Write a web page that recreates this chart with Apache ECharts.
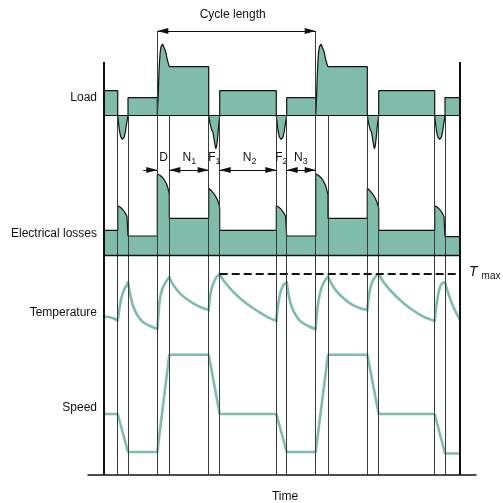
<!DOCTYPE html>
<html><head><meta charset="utf-8">
<script src="https://cdn.jsdelivr.net/npm/echarts@6/dist/echarts.min.js"></script>
<style>html,body{margin:0;padding:0;background:#fff}#c{width:503px;height:503px}</style>
</head><body><div id="c"></div>
<script>
// time of each event line (same units as the time axis)
const events = [13.7,24,53.3,65.3,104.7,115.7,172.3,182.7,211.7,224,263.3,274.7,330.7,341];
const cycleStart = 53.3, cycleEnd = 211.7, tEnd = 356;

const loadPoints = [
 [0,25],[13.7,25],[13.7,0],[14.6,-8],[15.6,-16],[16.8,-21.5],[18.5,-23.6],[20.2,-21.5],[21.4,-16],[22.6,-8],[24,0],
 [24,18],[53.3,18],[53.3,0],[54.2,20],[54.8,38],[55.4,52],[56.1,62.5],[57,69],[58.7,71.5],[60.3,69.7],[61.7,64],[63,57.4],[64.3,52.4],[65.3,49],
 [104.7,49],[104.7,0],[106,-7.6],[107.7,-14.3],[109,-16.6],[110.3,-25.3],[111.7,-33],[112.7,-30],[113.7,-21],[114.7,-9.3],[115.7,0],
 [115.7,25],[172.3,25],[172.3,0],[173.2,-8],[174.2,-16],[175.4,-21.5],[177.2,-23.6],[179,-21.5],[180.2,-16],[181.4,-8],[182.7,0],
 [182.7,18],[211.7,18],[211.7,0],[212.6,20],[213.2,38],[213.8,52],[214.5,62.5],[215.4,69],[217.1,71.5],[218.7,69.7],[220.1,64],[221.4,57.4],[222.7,52.4],[224,49],
 [263.3,49],[263.3,0],[264.6,-7.6],[266.3,-14.3],[267.6,-16.6],[268.9,-25.3],[270.3,-33],[271.3,-30],[272.3,-21],[273.4,-9.3],[274.7,0],
 [274.7,25],[330.7,25],[330.7,0],[331.6,-8],[332.6,-16],[333.8,-21.5],[335.7,-23.6],[337.4,-21.5],[338.6,-16],[339.8,-8],[341,0],
 [341,18],[356,18],[356,0]
];

const lossPoints = [
 [0,24.7],[13.7,24.7],[13.7,49.3],[16,48],[18.3,46],[20.3,43.3],[22,40.7],[23,38.3],[24,36.5],[24,19],
 [53.3,19],[53.3,81],[56,79.7],[58.7,77.3],[61,74],[62.7,70.7],[64,66.7],[65,62.7],[65.3,60],[65.3,36.7],
 [104.7,36.7],[104.7,66.7],[107.7,64],[110.3,60.7],[112.7,56.7],[114.3,53],[115.3,49.5],[115.7,47],[115.7,24.7],
 [172.3,24.7],[172.3,49.3],[174.6,48],[176.9,46],[178.9,43.3],[180.6,40.7],[181.6,38.3],[182.7,36.5],[182.7,19],
 [211.7,19],[211.7,81],[214.4,79.7],[217.1,77.3],[219.4,74],[221.1,70.7],[222.4,66.7],[223.4,62.7],[224,60],[224,36.7],
 [263.3,36.7],[263.3,66.7],[266.3,64],[268.9,60.7],[271.3,56.7],[272.9,53],[274,49.5],[274.7,47],[274.7,24.7],
 [330.7,24.7],[330.7,49.3],[333,48],[335.3,46],[337.3,43.3],[339,40.7],[340,38.3],[341,36.5],[341,18.3],
 [356,18.3],[356,0]
];

const tempPoints = [
 [0,23.3],[7,22.5],[13.7,19.5],
 [16,35],[17.7,43.3],[20,50],[22.7,55],[24,57.7],
 [26.7,43.3],[29.3,33.3],[34.3,23.3],[39.3,17.7],[46,14],[53.3,11],
 [54.7,28.3],[56,41.7],[58,50],[61,56.7],[65.3,63],
 [69.3,55],[76,46.7],[82.7,41],[91,35.7],[99.3,31.7],[104.7,30],
 [106,43.3],[107.7,51.7],[110,58.3],[112.7,63.3],[115.7,66],
 [119.3,60],[126,51.7],[136,41.7],[146,34],[156,27.3],[166,21.7],[172.3,19.3],
 [174.3,36.7],[176.7,48.3],[179.3,55],[182.7,57.7],
 [185,43.3],[187.7,33.3],[192.7,23.3],[197.7,17.7],[204.3,14],[211.7,10.7],
 [213.7,33.3],[216,46.7],[219.3,56.7],[224,63.3],
 [229.3,53.3],[236,45],[246,36.7],[256,31.7],[263.3,30],
 [265.3,46.7],[267.7,56.7],[271,62.7],[274.7,66],
 [279.3,58.3],[286,50],[296,40],[306,31.7],[319.3,23.3],[330.7,19],
 [332.7,36.7],[335.3,50.7],[338,56.7],[341,57.7],
 [344.3,46.7],[349.3,33.3],[356,20]
];
const tMax = 66, tMaxFrom = 115.7, tMaxTo = 351.7;

const speedPoints = [
 [0,61],[13.7,61],[24,23],[53.3,23],[65.3,120.3],[104.7,120.3],[115.7,61],[172.3,61],[182.7,23],
 [211.7,23],[224,120.3],[263.3,120.3],[274.7,61],[330.7,61],[341,21.5],[356,21.5]
];

const segLabels = ['D','N|1','F|1','N|2','F|2','N|3'];
const segLabelT = [59.7,85.3,110.3,145.7,177.3,196.8];
const segArrows = [[39.3,53.3,false,true],[65.3,104.7,true,true],[115.7,172.3,true,true],[182.7,211.7,true,true]];
const panelNames = ['Load','Electrical losses','Temperature','Speed'];

const teal = '#7fbdaa', ink = '#111', thin = '#3a3a3a';
const FONT = 'Liberation Sans, Arial, sans-serif';

// overlay geometry (y values in overlay grid)
const OV = {lineTop:359, cycleTop:444, arrowY:305, labelY:317, frameTop:413};

function splitAt(points, cuts){
  const segs=[]; let cur=[];
  points.forEach(p=>{cur.push(p); if(cuts.includes(p[0]) && cur.length>1){segs.push(cur); cur=[p];}});
  if(cur.length>1) segs.push(cur);
  return segs;
}

const grids = [
  {left:88,right:27,top:20,bottom:28},      // overlay
  {left:88,right:27,top:35.7,bottom:347.3}, // load
  {left:88,right:27,top:155,bottom:248},    // losses
  {left:88,right:27,top:240,bottom:163},    // temperature
  {left:88,right:27,top:345,bottom:28}      // speed
];
const yRanges = [[0,455],[-40,80],[0,100],[0,100],[0,130]];
const xAxes = grids.map((g,i)=>({type:'value',gridIndex:i,min:-16,max:372,show:i===4,
  axisLine:{show:true,onZero:false,lineStyle:{color:ink,width:1.5}},axisTick:{show:false},axisLabel:{show:false},splitLine:{show:false}}));
const yAxes = grids.map((g,i)=>({type:'value',gridIndex:i,min:yRanges[i][0],max:yRanges[i][1],show:false,splitLine:{show:false}}));

const arrowSize=[6,11];
const vLines = events.map(t=>[{coord:[t,0]},{coord:[t,(t===cycleStart||t===cycleEnd)?OV.cycleTop:OV.lineTop]}]);
const arrowItems = segArrows.map(a=>[
  {coord:[a[0],OV.arrowY],symbol:a[2]?'triangle':'none',symbolSize:arrowSize,symbolOffset:[0,5.5],lineStyle:{color:ink,width:1}},
  {coord:[a[1],OV.arrowY],symbol:a[3]?'triangle':'none',symbolSize:arrowSize,symbolOffset:[0,5.5]}
]);
const cycleArrow = [[
  {coord:[cycleStart,OV.cycleTop],symbol:'triangle',symbolSize:arrowSize,symbolOffset:[0,5.5],lineStyle:{color:ink,width:1}},
  {coord:[cycleEnd,OV.cycleTop],symbol:'triangle',symbolSize:arrowSize,symbolOffset:[0,5.5]}
]];

const series = [];
series.push({type:'line',xAxisIndex:0,yAxisIndex:0,data:[],z:2,silent:true,
  markLine:{silent:true,animation:false,symbol:'none',label:{show:false},emphasis:{disabled:true},
    lineStyle:{color:thin,width:1,type:'solid'},itemStyle:{color:ink},
    data:[...vLines,...arrowItems,...cycleArrow]}});
series.push({type:'line',xAxisIndex:0,yAxisIndex:0,data:[],z:5,silent:true,
  markLine:{silent:true,animation:false,symbol:'none',label:{show:false},emphasis:{disabled:true},
    lineStyle:{color:ink,width:2,type:'solid'},
    data:[[{coord:[0,0]},{coord:[0,OV.frameTop]}],[{coord:[tEnd,0]},{coord:[tEnd,OV.frameTop]}]]}});
series.push({type:'scatter',xAxisIndex:0,yAxisIndex:0,z:6,silent:true,symbolSize:0,itemStyle:{color:ink,opacity:1},
  data:segLabelT.map((t,i)=>({value:[t,OV.labelY],name:segLabels[i]})),
  label:{show:true,position:'inside',color:ink,fontFamily:FONT,textBorderWidth:0,opacity:1,
    formatter:p=>{const s=p.name.split('|'); return '{m|'+s[0]+'}'+(s[1]?'{s|'+s[1]+'}':'');},
    rich:{m:{fontSize:12,lineHeight:16,fontFamily:FONT,color:ink,textBorderWidth:0},
          s:{fontSize:9,lineHeight:8,verticalAlign:'bottom',fontFamily:FONT,color:ink,textBorderWidth:0}}}});
// load
series.push({type:'line',xAxisIndex:1,yAxisIndex:1,data:loadPoints,z:1,symbol:'none',silent:true,
  lineStyle:{color:ink,width:1.2},areaStyle:{color:teal,opacity:1},
  markLine:{silent:true,animation:false,symbol:'none',label:{show:false},lineStyle:{color:ink,width:1.2,type:'solid'},
    data:[[{coord:[0,0]},{coord:[tEnd,0]}]]}});
// losses
series.push({type:'line',xAxisIndex:2,yAxisIndex:2,data:lossPoints,z:1,symbol:'none',silent:true,
  lineStyle:{color:ink,width:1.2},areaStyle:{color:teal,opacity:1},
  markLine:{silent:true,animation:false,symbol:'none',label:{show:false},lineStyle:{color:ink,width:1.4,type:'solid'},
    data:[[{coord:[0,0]},{coord:[tEnd,0]}]]}});
// temperature
splitAt(tempPoints,events).forEach((seg,i)=>{
  const s={type:'line',xAxisIndex:3,yAxisIndex:3,data:seg,z:3,symbol:'none',silent:true,smooth:0.3,
    lineStyle:{color:teal,width:2.6,join:'round',cap:'round'}};
  if(i===0) s.markLine={silent:true,animation:false,symbol:'none',label:{show:false},
    lineStyle:{color:ink,width:1.8,type:[8,4]},data:[[{coord:[tMaxFrom,tMax]},{coord:[tMaxTo,tMax]}]]};
  series.push(s);
});
// speed
series.push({type:'line',xAxisIndex:4,yAxisIndex:4,data:speedPoints,z:3,symbol:'none',silent:true,
  lineStyle:{color:teal,width:2.6}});

const labelYs=[97.5,233.3,312.5,407.5];
const graphic = panelNames.map((n,i)=>({type:'text',x:97,y:labelYs[i],z:10,
  style:{text:n,align:'right',verticalAlign:'middle',font:'12px '+FONT,fill:ink}}));
graphic.push({type:'text',x:232.7,y:15,z:10,style:{text:'Cycle length',align:'center',verticalAlign:'middle',font:'12px '+FONT,fill:ink}});
graphic.push({type:'text',x:285,y:497,z:10,style:{text:'Time',align:'center',verticalAlign:'middle',font:'12px '+FONT,fill:ink}});
graphic.push({type:'text',x:469,y:272,z:10,style:{text:'{t|T}{m|max}',align:'left',verticalAlign:'middle',
  rich:{t:{fontSize:14,fontStyle:'italic',fontFamily:FONT,fill:ink,color:ink,lineHeight:18},
        m:{fontSize:10,fontFamily:FONT,fill:ink,color:ink,lineHeight:10,verticalAlign:'bottom',padding:[0,0,0,4]}}}});

const chart = echarts.init(document.getElementById('c'),null,{renderer:'canvas'});
chart.setOption({animation:false,backgroundColor:'#fff',grid:grids,xAxis:xAxes,yAxis:yAxes,series,graphic});
</script></body></html>
